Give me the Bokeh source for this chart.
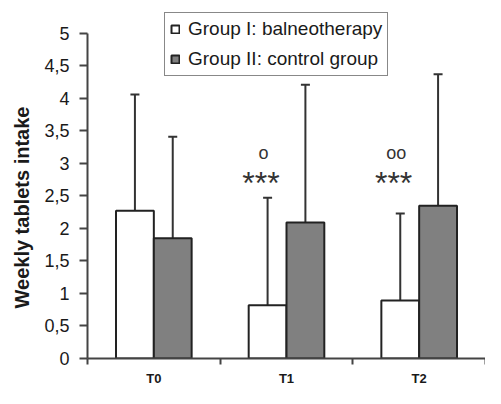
import numpy as np
from bokeh.plotting import figure
from bokeh.models import (Range1d, FixedTicker, Whisker, TeeHead, ColumnDataSource,
                          Legend, LegendItem, Title)
from bokeh.core.properties import value
from bokeh.embed import file_html
from bokeh.resources import INLINE

# ---- data ----
categories = ["T0", "T1", "T2"]
group1_label = "Group I: balneotherapy"
group2_label = "Group II: control group"
group1_mean = [2.27, 0.82, 0.89]
group1_sd = [1.79, 1.65, 1.34]
group2_mean = [1.85, 2.09, 2.35]
group2_sd = [1.56, 2.12, 2.02]
sig_vs_t0 = ["", "***", "***"]
sig_vs_control = ["", "o", "oo"]
y_ticks = [0, 0.5, 1, 1.5, 2, 2.5, 3, 3.5, 4, 4.5, 5]
y_tick_labels = ["0", "0,5", "1", "1,5", "2", "2,5", "3", "3,5", "4", "4,5", "5"]
y_axis_title = "Weekly tablets intake"

# ---- layout ----
FONT = "Liberation Sans"
AXIS_COLOR = "#444444"
TEXT_COLOR = "#1a1a1a"
BAR_W = 0.285
idx = np.arange(len(categories))
x1 = idx + 0.5 - BAR_W / 2
x2 = idx + 0.5 + BAR_W / 2

p = figure(width=485, height=388, x_range=Range1d(0, 3), y_range=Range1d(0, 5.474),
           output_backend="svg", toolbar_location=None,
           min_border_left=86, min_border_right=0, min_border_top=2, min_border_bottom=26)
p.outline_line_color = None
p.grid.visible = False
p.background_fill_color = "white"
p.border_fill_color = "white"

src1 = ColumnDataSource(dict(x=x1, top=group1_mean,
                             upper=np.array(group1_mean) + np.array(group1_sd)))
src2 = ColumnDataSource(dict(x=x2, top=group2_mean,
                             upper=np.array(group2_mean) + np.array(group2_sd)))

for s in (src1, src2):
    w = Whisker(source=s, base="x", lower="top", upper="upper", dimension="height",
                line_color="#333333", line_width=2, lower_head=None,
                upper_head=TeeHead(size=9, line_color="#333333", line_width=2))
    p.add_layout(w)

r1 = p.vbar(x="x", top="top", width=BAR_W, bottom=0, source=src1,
            fill_color="white", line_color="#222222", line_width=2)
r2 = p.vbar(x="x", top="top", width=BAR_W, bottom=0, source=src2,
            fill_color="#808080", line_color="#222222", line_width=2)

# significance marks above group I bars
ann = ColumnDataSource(dict(xs=x1 - 0.05, xc=x1 - 0.03, y_star=[2.70] * 3, y_circ=[3.16] * 3,
                            stars=sig_vs_t0, circs=sig_vs_control))
p.text(x="xs", y="y_star", text="stars", source=ann, text_align="center",
       text_baseline="middle", text_font=value(FONT), text_font_size="32px",
       text_color="#333333")
p.text(x="xc", y="y_circ", text="circs", source=ann, text_align="center",
       text_baseline="middle", text_font=value(FONT), text_font_size="18px",
       text_color="#333333")

# axes
xa = p.xaxis[0]
xa.ticker = FixedTicker(ticks=list(idx + 0.5), minor_ticks=list(range(len(categories) + 1)))
xa.major_label_overrides = {float(i + 0.5): c for i, c in enumerate(categories)}
xa.major_tick_out = 0
xa.major_tick_in = 0
xa.minor_tick_out = 6
xa.minor_tick_in = 0
xa.minor_tick_line_color = AXIS_COLOR
xa.minor_tick_line_width = 2
xa.axis_line_color = AXIS_COLOR
xa.axis_line_width = 2
xa.major_label_text_font = FONT
xa.major_label_text_font_size = "13px"
xa.major_label_text_font_style = "bold"
xa.major_label_text_color = TEXT_COLOR
xa.major_label_standoff = 6

ya = p.yaxis[0]
ya.bounds = (0, 5)
ya.ticker = FixedTicker(ticks=y_ticks, minor_ticks=[])
ya.major_label_overrides = {t: l for t, l in zip(y_ticks, y_tick_labels)}
ya.major_tick_out = 8
ya.major_tick_in = 0
ya.major_tick_line_color = AXIS_COLOR
ya.major_tick_line_width = 2
ya.minor_tick_out = 0
ya.minor_tick_in = 0
ya.axis_line_color = AXIS_COLOR
ya.axis_line_width = 2
ya.major_label_text_font = FONT
ya.major_label_text_font_size = "18px"
ya.major_label_text_color = TEXT_COLOR
ya.major_label_standoff = 10

# y-axis title placed as a side title so that it can sit lower than the frame centre
ytitle = Title(text=y_axis_title, align="left", offset=50, standoff=17,
               text_font=FONT, text_font_size="20px", text_font_style="bold",
               text_color=TEXT_COLOR)
p.add_layout(ytitle, "left")

legend = Legend(items=[LegendItem(label=group1_label, renderers=[r1]),
                       LegendItem(label=group2_label, renderers=[r2])],
                location=(77, 282), orientation="vertical",
                label_text_font=FONT, label_text_font_size="19px",
                label_text_color=TEXT_COLOR, glyph_width=10, glyph_height=10,
                label_standoff=8, padding=5, spacing=8, label_height=22,
                border_line_color="#111111", border_line_width=1.5,
                background_fill_color="white", background_fill_alpha=1.0, margin=0)
p.add_layout(legend)

open("out.html", "w").write(file_html(p, INLINE))
